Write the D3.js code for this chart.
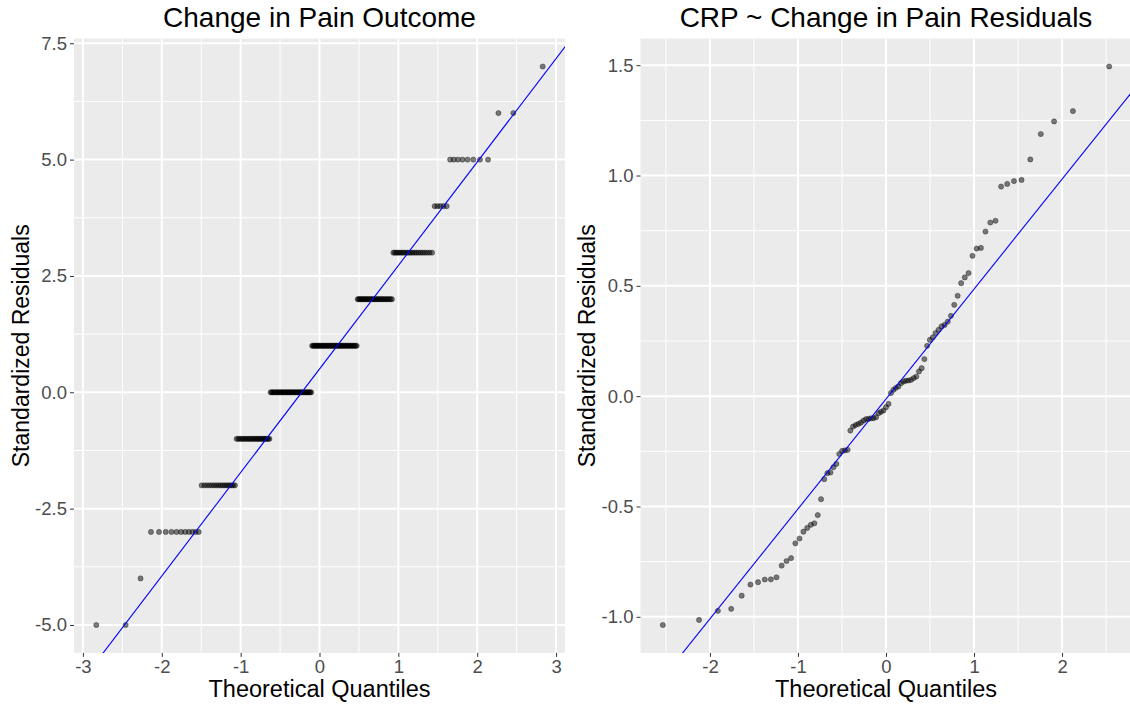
<!DOCTYPE html>
<html>
<head>
<meta charset="utf-8">
<script src="https://cdn.jsdelivr.net/npm/d3@7"></script>
<style>
  body { margin: 0; background: #fff; }
  text { font-family: "Liberation Sans", Arial, Helvetica, sans-serif; }
</style>
</head>
<body>
<script>
// left panel: raw change-in-pain values (integer levels and how many subjects at each)
var painLevels = [-5, -4, -3, -2, -1, 0, 1, 2, 3, 4, 5, 6, 7];
var painCounts = [2, 1, 11, 17, 26, 42, 48, 30, 22, 5, 8, 2, 1];

// right panel: standardized residuals of CRP ~ change in pain (sorted)
var crpResiduals = [
  -1.037, -1.014, -0.973, -0.964, -0.904, -0.854, -0.843, -0.831, -0.830, -0.821,
  -0.768, -0.747, -0.734, -0.667, -0.645, -0.614, -0.597, -0.583, -0.576, -0.539,
  -0.467, -0.376, -0.349, -0.346, -0.322, -0.307, -0.262, -0.248, -0.246, -0.243,
  -0.156, -0.138, -0.131, -0.126, -0.120, -0.111, -0.104, -0.103, -0.100, -0.100,
  -0.095, -0.077, -0.071, -0.065, -0.050, -0.035, 0.014, 0.029, 0.038, 0.044,
  0.059, 0.066, 0.070, 0.071, 0.074, 0.082, 0.089, 0.112, 0.127, 0.168,
  0.228, 0.255, 0.267, 0.286, 0.301, 0.316, 0.323, 0.338, 0.364, 0.414,
  0.455, 0.512, 0.538, 0.558, 0.636, 0.669, 0.672, 0.746, 0.787, 0.795,
  0.950, 0.962, 0.975, 0.980, 1.073, 1.188, 1.245, 1.292, 1.494
];

var titles = ["Change in Pain Outcome", "CRP ~ Change in Pain Residuals"];
var xTicks = [[-3, -2, -1, 0, 1, 2, 3], [-2, -1, 0, 1, 2]];
var yTicks = [[-5, -2.5, 0, 2.5, 5, 7.5], [-1, -0.5, 0, 0.5, 1, 1.5]];

// inverse normal cdf (Acklam), same role as qnorm in stat_qq
function qnorm(p) {
  var a = [-39.6968302866538, 220.946098424521, -275.928510446969, 138.357751867269, -30.6647980661472, 2.50662827745924];
  var b = [-54.4760987982241, 161.585836858041, -155.698979859887, 66.8013118877197, -13.2806815528857];
  var c = [-0.00778489400243029, -0.322396458041136, -2.40075827716184, -2.54973253934373, 4.37466414146497, 2.93816398269878];
  var d = [0.00778469570904146, 0.32246712907004, 2.445134137143, 3.75440866190742];
  var q, r;
  if (p < 0.02425) {
    q = Math.sqrt(-2 * Math.log(p));
    return (((((c[0]*q+c[1])*q+c[2])*q+c[3])*q+c[4])*q+c[5]) / ((((d[0]*q+d[1])*q+d[2])*q+d[3])*q+1);
  }
  if (p > 1 - 0.02425) return -qnorm(1 - p);
  q = p - 0.5; r = q * q;
  return (((((a[0]*r+a[1])*r+a[2])*r+a[3])*r+a[4])*r+a[5])*q / (((((b[0]*r+b[1])*r+b[2])*r+b[3])*r+b[4])*r+1);
}

function qqPoints(sample) {
  var s = sample.slice().sort(d3.ascending);
  var n = s.length;
  return s.map(function(v, i) {
    var p = n > 10 ? (i + 0.5) / n : (i + 1 - 0.375) / (n + 0.25);
    return { x: qnorm(p), y: v };
  });
}

var painSample = [];
painLevels.forEach(function(l, i) {
  for (var k = 0; k < painCounts[i]; k++) painSample.push(l);
});

var samples = [painSample, crpResiduals];

var svg = d3.select('body').append('svg')
  .attr('width', 1130)
  .attr('height', 706);

var panelTop = 38.6, panelBottom = 652.9;
var panelsX = [[74, 565], [640.5, 1131.5]];

function expand(ext) {
  var pad = (ext[1] - ext[0]) * 0.05;
  return [ext[0] - pad, ext[1] + pad];
}

// R style labels use a plain hyphen for negatives
function hyph(f) {
  return function(v) { return f(v).replace('\u2212', '-'); };
}

samples.forEach(function(sample, k) {
  var pts = qqPoints(sample);
  var x = d3.scaleLinear().domain(expand(d3.extent(pts, function(d) { return d.x; }))).range(panelsX[k]);
  var y = d3.scaleLinear().domain(expand(d3.extent(pts, function(d) { return d.y; }))).range([panelBottom, panelTop]);

  var g = svg.append('g');
  var x0 = panelsX[k][0], x1 = panelsX[k][1];

  g.append('rect')
    .attr('x', x0).attr('y', panelTop)
    .attr('width', x1 - x0).attr('height', panelBottom - panelTop)
    .attr('fill', '#EBEBEB');

  // minor grid at midpoints between major ticks
  var xt = xTicks[k], yt = yTicks[k];
  var xstep = xt[1] - xt[0], ystep = yt[1] - yt[0];
  var xMinor = [], yMinor = [];
  for (var v = xt[0] - xstep / 2; v <= xt[xt.length - 1] + xstep; v += xstep) xMinor.push(v);
  for (var w = yt[0] - ystep / 2; w <= yt[yt.length - 1] + ystep; w += ystep) yMinor.push(w);
  xMinor = xMinor.filter(function(v) { return x(v) > x0 && x(v) < x1; });
  yMinor = yMinor.filter(function(v) { return y(v) > panelTop && y(v) < panelBottom; });

  g.selectAll('.xminor').data(xMinor).enter().append('line')
    .attr('x1', function(d) { return x(d); }).attr('x2', function(d) { return x(d); })
    .attr('y1', panelTop).attr('y2', panelBottom)
    .attr('stroke', '#fff').attr('stroke-width', 1);
  g.selectAll('.yminor').data(yMinor).enter().append('line')
    .attr('y1', function(d) { return y(d); }).attr('y2', function(d) { return y(d); })
    .attr('x1', x0).attr('x2', x1)
    .attr('stroke', '#fff').attr('stroke-width', 1);
  g.selectAll('.xmajor').data(xt).enter().append('line')
    .attr('x1', function(d) { return x(d); }).attr('x2', function(d) { return x(d); })
    .attr('y1', panelTop).attr('y2', panelBottom)
    .attr('stroke', '#fff').attr('stroke-width', 2);
  g.selectAll('.ymajor').data(yt).enter().append('line')
    .attr('y1', function(d) { return y(d); }).attr('y2', function(d) { return y(d); })
    .attr('x1', x0).attr('x2', x1)
    .attr('stroke', '#fff').attr('stroke-width', 2);

  var clipId = 'clip' + k;
  svg.append('clipPath').attr('id', clipId).append('rect')
    .attr('x', x0).attr('y', panelTop)
    .attr('width', x1 - x0).attr('height', panelBottom - panelTop);

  // points
  g.append('g').attr('clip-path', 'url(#' + clipId + ')')
    .selectAll('circle').data(pts).enter().append('circle')
    .attr('cx', function(d) { return x(d.x); })
    .attr('cy', function(d) { return y(d.y); })
    .attr('r', 2.6)
    .attr('fill', '#000').attr('fill-opacity', 0.5)
    .attr('stroke', '#000').attr('stroke-opacity', 0.45).attr('stroke-width', 0.7);

  // qq line through the quartiles
  var sorted = sample.slice().sort(d3.ascending);
  var q1 = d3.quantile(sorted, 0.25), q3 = d3.quantile(sorted, 0.75);
  var t1 = qnorm(0.25), t3 = qnorm(0.75);
  var slope = (q3 - q1) / (t3 - t1);
  var intercept = q1 - slope * t1;
  var xd = x.domain();
  g.append('line')
    .attr('clip-path', 'url(#' + clipId + ')')
    .attr('x1', x(xd[0])).attr('y1', y(intercept + slope * xd[0]))
    .attr('x2', x(xd[1])).attr('y2', y(intercept + slope * xd[1]))
    .attr('stroke', '#0000FF').attr('stroke-width', 1.1);

  // axes
  var xAxis = g.append('g').attr('transform', 'translate(0,' + panelBottom + ')')
    .call(d3.axisBottom(x).tickValues(xt).tickFormat(hyph(d3.format('d'))).tickSize(4).tickPadding(3));
  var yAxis = g.append('g').attr('transform', 'translate(' + x0 + ',0)')
    .call(d3.axisLeft(y).tickValues(yt).tickFormat(hyph(d3.format('.1f'))).tickSize(4).tickPadding(3));
  [xAxis, yAxis].forEach(function(a) {
    a.select('.domain').remove();
    a.selectAll('line').attr('stroke', '#333333').attr('stroke-width', 1);
    a.selectAll('text').attr('fill', '#4D4D4D').attr('font-size', '18.5px')
      .style('font-family', '"Liberation Sans", Arial, sans-serif');
  });

  var cx = (x0 + x1) / 2;
  g.append('text')
    .attr('x', cx).attr('y', 27)
    .attr('text-anchor', 'middle')
    .attr('font-size', '28px')
    .text(titles[k]);

  g.append('text')
    .attr('x', cx).attr('y', 697)
    .attr('text-anchor', 'middle')
    .attr('font-size', '23.5px')
    .text('Theoretical Quantiles');

  g.append('text')
    .attr('transform', 'translate(' + (x0 - 45.5) + ',' + ((panelTop + panelBottom) / 2) + ') rotate(-90)')
    .attr('text-anchor', 'middle')
    .attr('font-size', '23px')
    .text('Standardized Residuals');
});
</script>
</body>
</html>
